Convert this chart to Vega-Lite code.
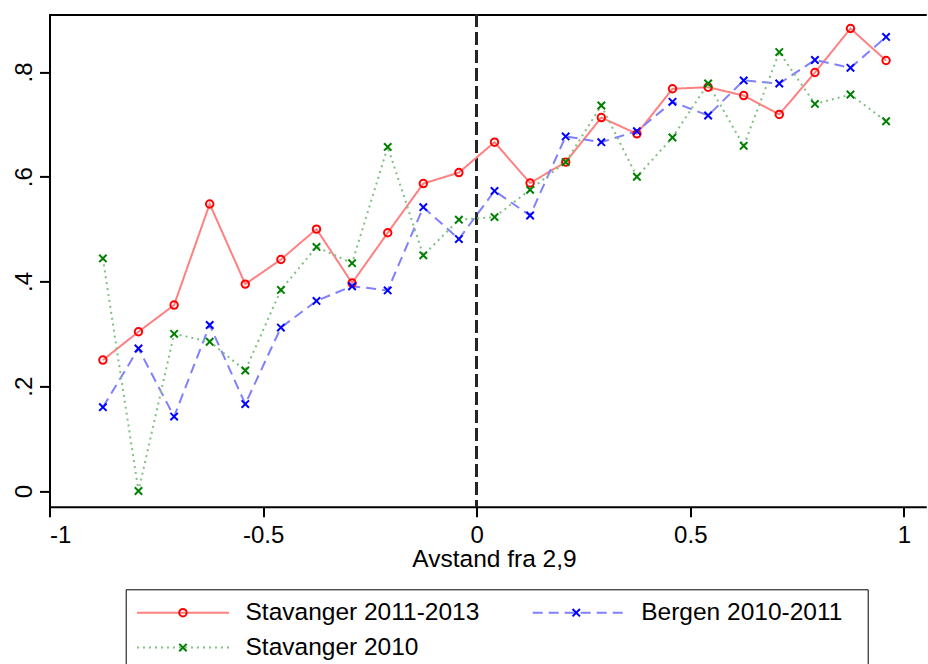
{
  "$schema": "https://vega.github.io/schema/vega-lite/v6.json",
  "width": 875.76,
  "height": 492.3,
  "autosize": {"type": "none"},
  "padding": {"left": 49.5, "top": 14.4, "right": 2.74, "bottom": 157.3},
  "background": "white",
  "config": {
    "view": {"stroke": null},
    "font": "Liberation Sans",
    "axis": {
      "grid": false,
      "domainColor": "black",
      "domainWidth": 2,
      "domainCap": "square",
      "tickColor": "black",
      "tickWidth": 2,
      "tickSize": 10,
      "labelColor": "black",
      "labelFont": "Liberation Sans",
      "labelFontSize": 24,
      "titleFont": "Liberation Sans",
      "titleFontSize": 24.5,
      "titleFontWeight": "normal",
      "titleColor": "black"
    },
    "legend": {
      "labelFont": "Liberation Sans",
      "labelFontSize": 24.5,
      "labelColor": "black",
      "labelLimit": 0
    }
  },
  "data": {
    "values": [
      {"series": "Stavanger 2011-2013", "x": -0.875, "y": 0.250},
      {"series": "Stavanger 2011-2013", "x": -0.7917, "y": 0.304},
      {"series": "Stavanger 2011-2013", "x": -0.7083, "y": 0.355},
      {"series": "Stavanger 2011-2013", "x": -0.625, "y": 0.548},
      {"series": "Stavanger 2011-2013", "x": -0.5417, "y": 0.395},
      {"series": "Stavanger 2011-2013", "x": -0.4583, "y": 0.442},
      {"series": "Stavanger 2011-2013", "x": -0.375, "y": 0.500},
      {"series": "Stavanger 2011-2013", "x": -0.2917, "y": 0.397},
      {"series": "Stavanger 2011-2013", "x": -0.2083, "y": 0.493},
      {"series": "Stavanger 2011-2013", "x": -0.125, "y": 0.587},
      {"series": "Stavanger 2011-2013", "x": -0.0417, "y": 0.608},
      {"series": "Stavanger 2011-2013", "x": 0.0417, "y": 0.666},
      {"series": "Stavanger 2011-2013", "x": 0.125, "y": 0.588},
      {"series": "Stavanger 2011-2013", "x": 0.2083, "y": 0.628},
      {"series": "Stavanger 2011-2013", "x": 0.2917, "y": 0.713},
      {"series": "Stavanger 2011-2013", "x": 0.375, "y": 0.682},
      {"series": "Stavanger 2011-2013", "x": 0.4583, "y": 0.768},
      {"series": "Stavanger 2011-2013", "x": 0.5417, "y": 0.771},
      {"series": "Stavanger 2011-2013", "x": 0.625, "y": 0.755},
      {"series": "Stavanger 2011-2013", "x": 0.7083, "y": 0.719},
      {"series": "Stavanger 2011-2013", "x": 0.7917, "y": 0.799},
      {"series": "Stavanger 2011-2013", "x": 0.875, "y": 0.883},
      {"series": "Stavanger 2011-2013", "x": 0.9583, "y": 0.822},
      {"series": "Bergen 2010-2011", "x": -0.875, "y": 0.160},
      {"series": "Bergen 2010-2011", "x": -0.7917, "y": 0.272},
      {"series": "Bergen 2010-2011", "x": -0.7083, "y": 0.142},
      {"series": "Bergen 2010-2011", "x": -0.625, "y": 0.317},
      {"series": "Bergen 2010-2011", "x": -0.5417, "y": 0.166},
      {"series": "Bergen 2010-2011", "x": -0.4583, "y": 0.312},
      {"series": "Bergen 2010-2011", "x": -0.375, "y": 0.363},
      {"series": "Bergen 2010-2011", "x": -0.2917, "y": 0.391},
      {"series": "Bergen 2010-2011", "x": -0.2083, "y": 0.383},
      {"series": "Bergen 2010-2011", "x": -0.125, "y": 0.542},
      {"series": "Bergen 2010-2011", "x": -0.0417, "y": 0.481},
      {"series": "Bergen 2010-2011", "x": 0.0417, "y": 0.573},
      {"series": "Bergen 2010-2011", "x": 0.125, "y": 0.526},
      {"series": "Bergen 2010-2011", "x": 0.2083, "y": 0.677},
      {"series": "Bergen 2010-2011", "x": 0.2917, "y": 0.666},
      {"series": "Bergen 2010-2011", "x": 0.375, "y": 0.687},
      {"series": "Bergen 2010-2011", "x": 0.4583, "y": 0.743},
      {"series": "Bergen 2010-2011", "x": 0.5417, "y": 0.717},
      {"series": "Bergen 2010-2011", "x": 0.625, "y": 0.784},
      {"series": "Bergen 2010-2011", "x": 0.7083, "y": 0.778},
      {"series": "Bergen 2010-2011", "x": 0.7917, "y": 0.823},
      {"series": "Bergen 2010-2011", "x": 0.875, "y": 0.808},
      {"series": "Bergen 2010-2011", "x": 0.9583, "y": 0.867},
      {"series": "Stavanger 2010", "x": -0.875, "y": 0.444},
      {"series": "Stavanger 2010", "x": -0.7917, "y": 0.000},
      {"series": "Stavanger 2010", "x": -0.7083, "y": 0.300},
      {"series": "Stavanger 2010", "x": -0.625, "y": 0.285},
      {"series": "Stavanger 2010", "x": -0.5417, "y": 0.230},
      {"series": "Stavanger 2010", "x": -0.4583, "y": 0.384},
      {"series": "Stavanger 2010", "x": -0.375, "y": 0.466},
      {"series": "Stavanger 2010", "x": -0.2917, "y": 0.435},
      {"series": "Stavanger 2010", "x": -0.2083, "y": 0.657},
      {"series": "Stavanger 2010", "x": -0.125, "y": 0.450},
      {"series": "Stavanger 2010", "x": -0.0417, "y": 0.518},
      {"series": "Stavanger 2010", "x": 0.0417, "y": 0.523},
      {"series": "Stavanger 2010", "x": 0.125, "y": 0.575},
      {"series": "Stavanger 2010", "x": 0.2083, "y": 0.628},
      {"series": "Stavanger 2010", "x": 0.2917, "y": 0.736},
      {"series": "Stavanger 2010", "x": 0.375, "y": 0.600},
      {"series": "Stavanger 2010", "x": 0.4583, "y": 0.675},
      {"series": "Stavanger 2010", "x": 0.5417, "y": 0.778},
      {"series": "Stavanger 2010", "x": 0.625, "y": 0.659},
      {"series": "Stavanger 2010", "x": 0.7083, "y": 0.838},
      {"series": "Stavanger 2010", "x": 0.7917, "y": 0.739},
      {"series": "Stavanger 2010", "x": 0.875, "y": 0.757},
      {"series": "Stavanger 2010", "x": 0.9583, "y": 0.706}
    ]
  },
  "resolve": {
    "axis": {"x": "independent"},
    "legend": {"stroke": "independent", "shape": "independent"}
  },
  "layer": [
    {
      "mark": {"type": "rule", "strokeDash": [12, 6], "color": "#262626", "strokeWidth": 2},
      "encoding": {
        "x": {
          "datum": 0,
          "type": "quantitative",
          "scale": {"domain": [-1, 1.05], "nice": false, "zero": false},
          "axis": {"orient": "top", "labels": false, "ticks": false, "title": null, "domain": true}
        }
      }
    },
    {
      "mark": {"type": "line", "strokeWidth": 2},
      "encoding": {
        "x": {
          "field": "x",
          "type": "quantitative",
          "scale": {"domain": [-1, 1.05], "nice": false, "zero": false},
          "axis": {
            "values": [-1, -0.5, 0, 0.5, 1],
            "labelExpr": "'' + datum.value",
            "labelPadding": 6.4,
            "labelBaseline": "top",
            "title": "Avstand fra 2,9",
            "titleX": 444.5,
            "titleY": 40.8,
            "titleBaseline": "top",
            "titleAlign": "center"
          }
        },
        "y": {
          "field": "y",
          "type": "quantitative",
          "scale": {"domain": [-0.03, 0.91], "nice": false, "zero": false},
          "axis": {
            "values": [0, 0.2, 0.4, 0.6, 0.8],
            "labelExpr": "datum.value == 0 ? '0' : replace(format(datum.value, '.1f'), '0.', '.')",
            "labelAngle": -90,
            "labelAlign": "center",
            "labelBaseline": "alphabetic",
            "labelPadding": 8.5,
            "title": null
          }
        },
        "color": {
          "field": "series",
          "type": "nominal",
          "sort": null,
          "scale": {
            "domain": ["Stavanger 2011-2013", "Bergen 2010-2011", "Stavanger 2010"],
            "range": ["#ff8080", "#8080ff", "#80c080"]
          },
          "legend": {
            "orient": "none", "direction": "horizontal", "legendX": 76.2, "legendY": 574.9, "columns": 2,
            "columnPadding": 48.7, "rowPadding": 10, "symbolType": "M-11.5,0H11.5", "symbolSize": 64,
            "symbolStrokeWidth": 2, "symbolOffset": 34, "labelOffset": 50.3, "padding": 11,
            "strokeColor": "black", "title": " ", "titleOrient": "right", "titleFontSize": 1,
            "titlePadding": 14
          }
        },
        "strokeDash": {
          "field": "series",
          "type": "nominal",
          "sort": null,
          "scale": {
            "domain": ["Stavanger 2011-2013", "Bergen 2010-2011", "Stavanger 2010"],
            "range": [[1, 0], [10, 6], [2, 4]]
          },
          "legend": {
            "orient": "none", "direction": "horizontal", "legendX": 76.2, "legendY": 574.9, "columns": 2,
            "columnPadding": 48.7, "rowPadding": 10, "symbolType": "M-11.5,0H11.5", "symbolSize": 64,
            "symbolStrokeWidth": 2, "symbolOffset": 34, "labelOffset": 50.3, "padding": 11,
            "strokeColor": "black", "title": " ", "titleOrient": "right", "titleFontSize": 1,
            "titlePadding": 14
          }
        }
      }
    },
    {
      "mark": {"type": "point", "filled": false, "strokeWidth": 2, "size": 55, "opacity": 1},
      "encoding": {
        "x": {
          "field": "x",
          "type": "quantitative",
          "scale": {"domain": [-1, 1.05], "nice": false, "zero": false},
          "axis": null
        },
        "y": {
          "field": "y",
          "type": "quantitative",
          "scale": {"domain": [-0.03, 0.91], "nice": false, "zero": false},
          "axis": {
            "values": [0, 0.2, 0.4, 0.6, 0.8],
            "labelExpr": "datum.value == 0 ? '0' : replace(format(datum.value, '.1f'), '0.', '.')",
            "labelAngle": -90,
            "labelAlign": "center",
            "labelBaseline": "alphabetic",
            "labelPadding": 8.5,
            "title": null
          }
        },
        "stroke": {
          "field": "series",
          "type": "nominal",
          "sort": null,
          "scale": {
            "domain": ["Stavanger 2011-2013", "Bergen 2010-2011", "Stavanger 2010"],
            "range": ["#ff0000", "#0000ff", "#008000"]
          },
          "legend": {
            "orient": "none", "direction": "horizontal", "legendX": 76.2, "legendY": 574.9, "columns": 2,
            "columnPadding": 284.3, "rowPadding": 10, "symbolSize": 55, "symbolStrokeWidth": 2,
            "symbolOffset": 34, "symbolFillColor": "transparent", "labelOffset": 50.3,
            "labelExpr": "''", "padding": 11, "title": null
          }
        },
        "shape": {
          "field": "series",
          "type": "nominal",
          "sort": null,
          "scale": {
            "domain": ["Stavanger 2011-2013", "Bergen 2010-2011", "Stavanger 2010"],
            "range": ["circle", "M-1,-1L1,1M-1,1L1,-1", "M-1,-1L1,1M-1,1L1,-1"]
          },
          "legend": {
            "orient": "none", "direction": "horizontal", "legendX": 76.2, "legendY": 574.9, "columns": 2,
            "columnPadding": 284.3, "rowPadding": 10, "symbolSize": 55, "symbolStrokeWidth": 2,
            "symbolOffset": 34, "symbolFillColor": "transparent", "labelOffset": 50.3,
            "labelExpr": "''", "padding": 11, "title": null
          }
        }
      }
    }
  ]
}
